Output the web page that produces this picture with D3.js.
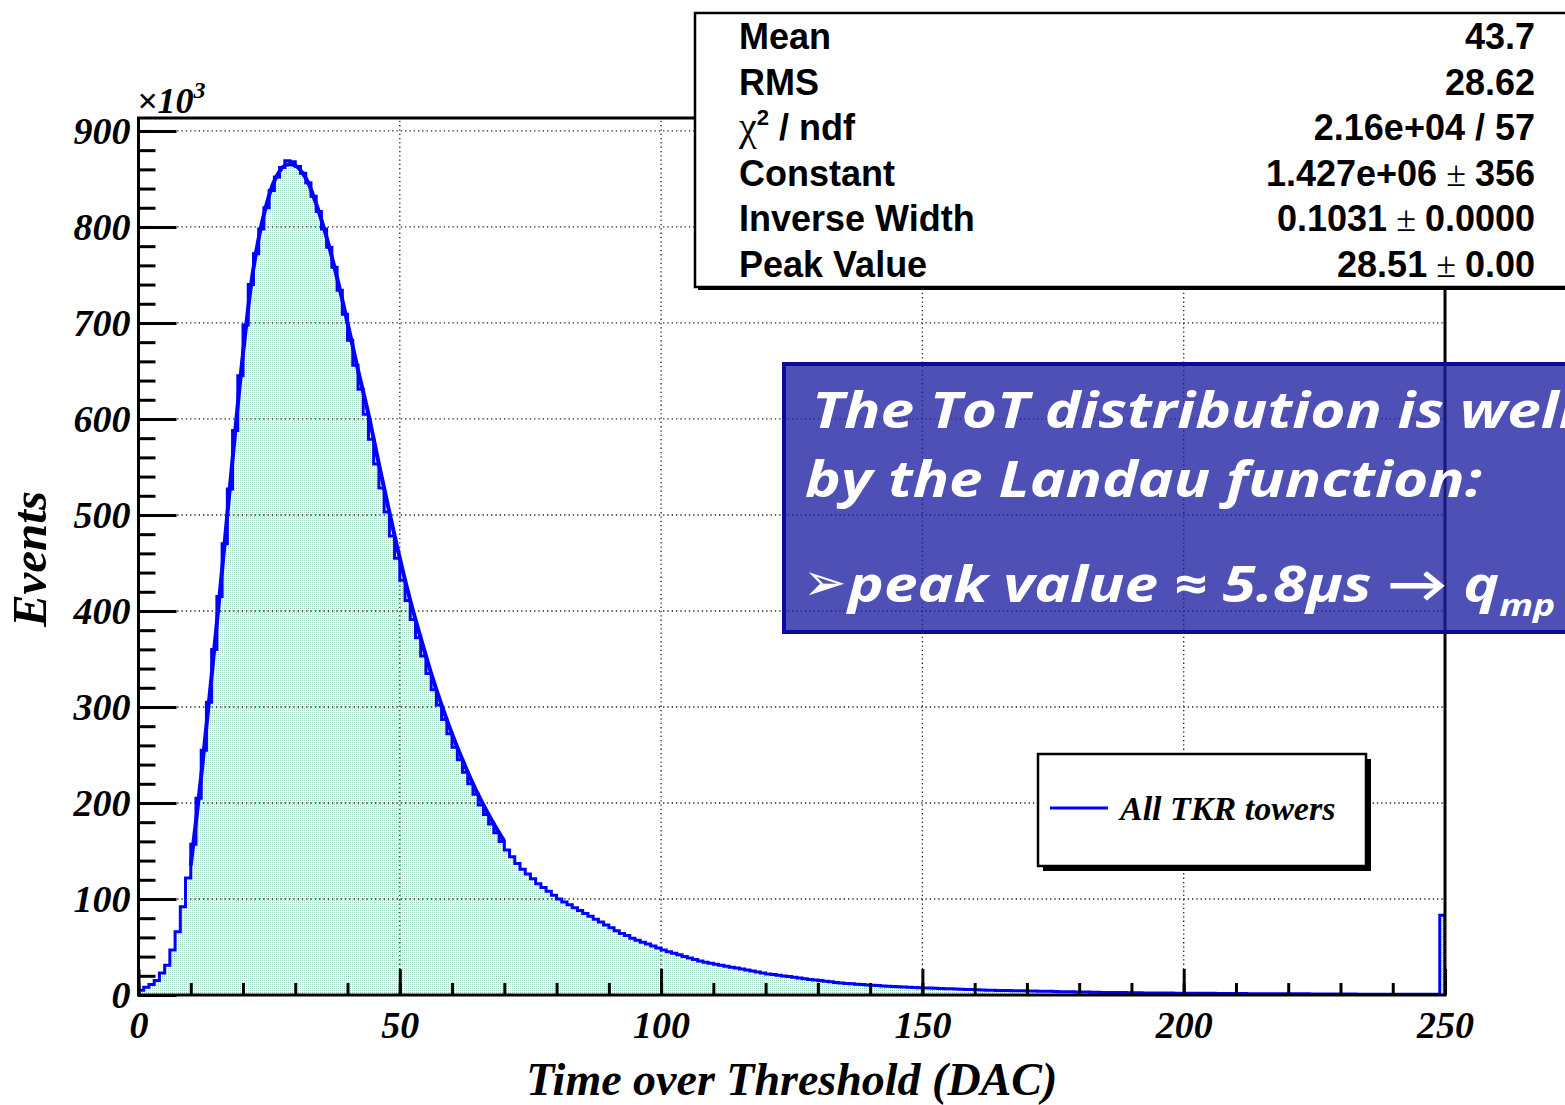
<!DOCTYPE html>
<html><head><meta charset="utf-8">
<script src="https://cdn.jsdelivr.net/npm/d3@7"></script>
<style>body{margin:0;background:#fff;overflow:hidden}</style>
</head><body>
<svg id="c" width="1565" height="1105"></svg>
<script>
// Histogram contents (thousands of events), bins of width 1 DAC, 0..250
const binCounts = [
  5, 8, 11, 15, 23, 31, 47, 66, 92, 122,
  157, 205, 255, 305, 360, 415, 470, 527, 588, 645,
  698, 740, 772, 798, 820, 838, 852, 862, 869, 868,
  863, 856, 846, 832, 816, 798, 779, 758, 734, 709,
  682, 656, 631, 605, 579, 553, 528, 503, 478, 455,
  432, 411, 391, 372, 353, 335, 318, 302, 287, 272,
  258, 245, 232, 220, 209, 198, 188, 178, 169, 160,
  151, 144, 137, 131, 126, 121, 116, 112, 108, 104,
  100, 97, 94, 91, 88, 85, 82, 79, 76, 73,
  70, 67, 64, 62, 59, 57, 55, 53, 51, 49,
  47, 45, 43.5, 42, 40, 38.5, 37, 35.5, 34, 33,
  32, 31, 30, 29, 28, 27, 26, 25, 24, 23,
  22, 21.3, 20.6, 19.9, 19.2, 18.5, 17.6, 16.8, 16.1, 15.5,
  15, 14.3, 13.7, 13.1, 12.6, 12.1, 11.7, 11.3, 10.9, 10.5,
  10.1, 9.8, 9.5, 9.2, 8.9, 8.6, 8.3, 8.0, 7.8, 7.6,
  7.4, 7.2, 7.0, 6.8, 6.6, 6.4, 6.2, 6.0, 5.8, 5.6,
  5.4, 5.2, 5.0, 4.9, 4.8, 4.7, 4.6, 4.5, 4.4, 4.3,
  4.2, 4.1, 4.0, 3.9, 3.8, 3.6, 3.5, 3.4, 3.3, 3.2,
  3.1, 3.0, 2.9, 2.8, 2.7, 2.7, 2.6, 2.5, 2.5, 2.4,
  2.3, 2.3, 2.2, 2.2, 2.1, 2.1, 2.0, 2.0, 1.9, 1.9,
  1.8, 1.8, 1.8, 1.7, 1.7, 1.7, 1.6, 1.6, 1.6, 1.5,
  1.5, 1.5, 1.4, 1.4, 1.4, 1.4, 1.3, 1.3, 1.3, 1.3,
  1.2, 1.2, 1.2, 1.2, 1.1, 1.1, 1.1, 1.1, 1.0, 1.0,
  1.0, 1.0, 1.0, 0.9, 0.9, 0.9, 0.9, 0.9, 0.8, 0.8,
  0.8, 0.8, 0.8, 0.8, 0.7, 0.7, 0.7, 0.7, 0.7, 83
];
const binWidth = 1;

// Landau fit curve (thousands)
const fitX = [10,12,14,16,18,20,22,24,26,28,30,32,34,36,38,40,42,44,46,48,50,52,54,56,58,60,62,64,66,68,70];
const fitY = [135,228,333,443,558,668,757,813,848,864,864,851,824,789,747,700,651,605,553,503,455,411,372,335,302,272,245,220,198,178,160];

const xMajorTicks = [0,50,100,150,200,250];
const xMinorTicks = d3.range(0,251,10);
const yMajorTicks = [0,100,200,300,400,500,600,700,800,900];
const yMinorTicks = d3.range(0,913,20);
const xTitle = "Time over Threshold (DAC)";
const yTitle = "Events";
const yExponent = "3";

const statLabels = ["Mean","RMS","χ^2 / ndf","Constant","Inverse Width","Peak Value"];
const statValues = ["43.7","28.62","2.16e+04 / 57","1.427e+06 ± 356","0.1031 ± 0.0000","28.51 ± 0.00"];
const legendLabel = "All TKR towers";
const noteLines = ["The ToT distribution is well fitted", "by the Landau function:"];
const noteBullet = "peak value ≈ 5.8μs → q";
const noteBulletSub = "mp";

const svg = d3.select("#c");
const serif = "'Liberation Serif','Times New Roman',serif";
const sans = "'Liberation Sans',Arial,sans-serif";

const x = d3.scaleLinear().domain([0,250]).range([138.5,1445]);
const y = d3.scaleLinear().domain([0,913.5]).range([995,118]);

// pattern fill
const defs = svg.append("defs");
const pat = defs.append("pattern").attr("id","dots").attr("patternUnits","userSpaceOnUse")
  .attr("width",2).attr("height",2);
pat.append("rect").attr("width",2).attr("height",2).attr("fill","#ffffff");
pat.append("rect").attr("width",1).attr("height",1).attr("fill","#9bd0b6");
defs.append("clipPath").attr("id","frameClip").append("rect")
  .attr("x",x(0)).attr("y",y(913.5)).attr("width",x(250)-x(0)).attr("height",y(0)-y(913.5));

const steps = [[0,0]].concat(binCounts.map((v,i)=>[i*binWidth,v]), [[binCounts.length*binWidth, binCounts[binCounts.length-1]]]);

// fill
svg.append("path")
  .datum(steps)
  .attr("d", d3.area().curve(d3.curveStepAfter).x(d=>x(d[0])).y0(y(0)).y1(d=>y(d[1])))
  .attr("fill","url(#dots)");

// grid
const grid = svg.append("g").attr("stroke","#222").attr("stroke-width",1.3).attr("stroke-dasharray","1.3,3");
grid.selectAll("line.gx").data(xMajorTicks.filter(t=>t>0&&t<250)).join("line")
  .attr("x1",d=>x(d)).attr("x2",d=>x(d)).attr("y1",y(0)).attr("y2",y(913.5));
grid.selectAll("line.gy").data(yMajorTicks.filter(t=>t>0)).join("line")
  .attr("y1",d=>y(d)).attr("y2",d=>y(d)).attr("x1",x(0)).attr("x2",x(250));

// histogram outline
const outline = steps.concat([[binCounts.length*binWidth,0]]);
svg.append("path")
  .datum(outline)
  .attr("d", d3.line().curve(d3.curveStepAfter).x(d=>x(d[0])).y(d=>y(d[1])))
  .attr("fill","none").attr("stroke","#0000ff").attr("stroke-width",3)
  .attr("clip-path","url(#frameClip)");

// fit curve
svg.append("path")
  .datum(fitX.map((v,i)=>[v,fitY[i]]))
  .attr("d", d3.line().curve(d3.curveCatmullRom).x(d=>x(d[0])).y(d=>y(d[1])))
  .attr("fill","none").attr("stroke","#0000ff").attr("stroke-width",4);

// axes
const axStyle = g => { g.select(".domain").remove(); g.selectAll(".tick line").attr("stroke","#000").attr("stroke-width",3); };
svg.append("g").attr("transform",`translate(0,${y(0)})`)
  .call(d3.axisBottom(x).tickValues(xMinorTicks).tickSize(-12).tickFormat(""))
  .call(axStyle);
const xa = svg.append("g").attr("transform",`translate(0,${y(0)})`)
  .call(d3.axisBottom(x).tickValues(xMajorTicks).tickSize(-26).tickPadding(0).tickFormat(d3.format("d")))
  .call(axStyle);
xa.selectAll(".tick text").attr("y",43).attr("dy",0)
  .attr("font-family",serif).attr("font-weight","bold").attr("font-style","italic")
  .attr("font-size",38).attr("fill","#000");

svg.append("g").attr("transform",`translate(${x(0)},0)`)
  .call(d3.axisLeft(y).tickValues(yMinorTicks).tickSize(-17).tickFormat(""))
  .call(axStyle);
const ya = svg.append("g").attr("transform",`translate(${x(0)},0)`)
  .call(d3.axisLeft(y).tickValues(yMajorTicks).tickSize(-38).tickPadding(8).tickFormat(d3.format("d")))
  .call(axStyle);
ya.selectAll(".tick text").attr("dy","0.34em")
  .attr("font-family",serif).attr("font-weight","bold").attr("font-style","italic")
  .attr("font-size",38).attr("fill","#000");

// frame
svg.append("rect").attr("x",x(0)).attr("y",y(913.5)).attr("width",x(250)-x(0)).attr("height",y(0)-y(913.5))
  .attr("fill","none").attr("stroke","#000").attr("stroke-width",3);

// exponent label
const ex = svg.append("text").attr("x",137).attr("y",113)
  .attr("font-family",serif).attr("font-style","italic").attr("font-weight","bold").attr("font-size",36).attr("fill","#000");
ex.append("tspan").text("×10");
ex.append("tspan").attr("dy",-15).attr("font-size",24).text(yExponent);

// axis titles
svg.append("text").attr("x",(x(0)+x(250))/2).attr("y",1095).attr("text-anchor","middle")
  .attr("font-family",serif).attr("font-weight","bold").attr("font-style","italic")
  .attr("font-size",46).attr("fill","#000").text(xTitle);
svg.append("text").attr("transform","translate(46,559) rotate(-90)").attr("text-anchor","middle")
  .attr("font-family",serif).attr("font-weight","bold").attr("font-style","italic")
  .attr("font-size",49).attr("fill","#000").text(yTitle);

// legend
svg.append("rect").attr("x",1043).attr("y",759).attr("width",328).attr("height",112).attr("fill","#000");
svg.append("rect").attr("x",1038).attr("y",754).attr("width",328).attr("height",112)
  .attr("fill","#fff").attr("stroke","#000").attr("stroke-width",2.5);
svg.append("line").attr("x1",1050).attr("x2",1108).attr("y1",808).attr("y2",808)
  .attr("stroke","#0000ff").attr("stroke-width",3);
svg.append("text").attr("x",1120).attr("y",820)
  .attr("font-family",serif).attr("font-weight","bold").attr("font-style","italic")
  .attr("font-size",34).attr("fill","#000").text(legendLabel);

// stats box
svg.append("rect").attr("x",698).attr("y",16).attr("width",900).attr("height",274).attr("fill","#000");
svg.append("rect").attr("x",695).attr("y",13).attr("width",900).attr("height",274)
  .attr("fill","#fff").attr("stroke","#000").attr("stroke-width",2.5);
const rowY = d3.scaleLinear().domain([0,5]).range([49,277]);
statLabels.forEach((lab,i)=>{
  const t = svg.append("text").attr("x",739).attr("y",rowY(i))
    .attr("font-family",sans).attr("font-weight","bold").attr("font-size",36).attr("fill","#000");
  if (lab.includes("^")) {
    const [a,rest] = lab.split("^");
    t.append("tspan").attr("font-family",serif).attr("font-weight","normal").attr("font-size",40).text(a);
    t.append("tspan").attr("dy",-15).attr("font-size",22).text(rest[0]);
    t.append("tspan").attr("dy",15).text(rest.slice(1));
  } else t.text(lab);
  const v = svg.append("text").attr("x",1535).attr("y",rowY(i)).attr("text-anchor","end")
    .attr("font-family",sans).attr("font-weight","bold").attr("font-size",36).attr("fill","#000");
  const parts = statValues[i].split("±");
  if (parts.length>1) {
    v.append("tspan").text(parts[0].trimEnd());
    v.append("tspan").attr("font-weight","normal").attr("font-family",serif).text(" ± ");
    v.append("tspan").text(parts[1].trimStart());
  } else v.text(statValues[i]);
});

// blue note box (semi-transparent)
svg.append("rect").attr("x",784).attr("y",364).attr("width",800).attr("height",268)
  .attr("fill","#1c1fa0").attr("fill-opacity",0.78)
  .attr("stroke","#0b0b9c").attr("stroke-width",4);
const noteFont = "'Open Sans','Lato','DejaVu Sans',sans-serif";
const nt = svg.append("g").attr("fill","#fff").attr("font-family",noteFont)
  .attr("font-weight","bold").attr("font-style","italic");
const base = 50;
const l1 = nt.append("text").attr("x",812).attr("y",428).attr("font-size",base).text(noteLines[0]);
const l2 = nt.append("text").attr("x",805).attr("y",497).attr("font-size",base).text(noteLines[1]);
// stretch horizontally so line 2 spans like the reference (Comic-like wide glyphs)
const sx = 677 / l2.node().getComputedTextLength();
[l1,l2].forEach((t,i)=>{
  const x0 = +t.attr("x");
  t.attr("transform",`translate(${x0},0) scale(${sx},1) translate(${-x0},0)`);
});
nt.append("text").attr("x",803).attr("y",600).attr("font-size",52)
  .attr("font-family","'DejaVu Sans',sans-serif").attr("font-style","normal").attr("font-weight","normal").text("➢");
const l3 = nt.append("text").attr("x",848).attr("y",602).attr("font-size",base)
  .attr("transform",`translate(848,0) scale(${sx},1) translate(-848,0)`);
l3.append("tspan").text(noteBullet);
l3.append("tspan").attr("dy",14).attr("font-size",base*0.62).text(noteBulletSub);
</script>
</body></html>
